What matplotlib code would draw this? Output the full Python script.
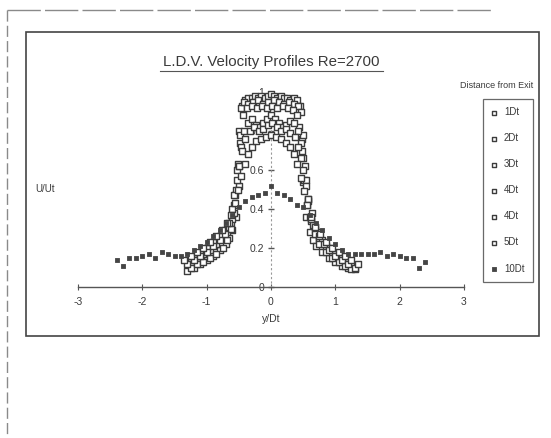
import matplotlib
matplotlib.use("Agg")
import matplotlib.pyplot as plt
from matplotlib.lines import Line2D
from matplotlib.patches import Rectangle

# ---------------- data ----------------
title = "L.D.V. Velocity Profiles Re=2700"
x_label = "y/Dt"
y_label = "U/Ut"
legend_title = "Distance from Exit"
series_labels = ["1Dt", "2Dt", "3Dt", "4Dt", "4Dt", "5Dt", "10Dt"]
x_ticks = [-3, -2, -1, 0, 1, 2, 3]
y_ticks = [0, 0.2, 0.4, 0.6, 0.8, 1]
y_tick_labels = ["0", "0.2", "0.4", "0.6", "0.8", "1"]

x_1dt = [-1.3, -1.2, -1.1, -1.0, -0.9, -0.8, -0.7, -0.65, -0.6, -0.55, -0.5, -0.48, -0.45,
         -0.4, -0.35, -0.3, -0.25, -0.2, -0.15, -0.1, -0.05, 0.0,
         0.05, 0.1, 0.15, 0.2, 0.25, 0.3, 0.35, 0.4, 0.45,
         0.48, 0.5, 0.55, 0.6, 0.65, 0.7, 0.8, 0.9, 1.0, 1.1, 1.2, 1.3]
y_1dt = [0.08, 0.10, 0.12, 0.14, 0.16, 0.19, 0.22, 0.25, 0.29, 0.36, 0.52, 0.74, 0.93,
         0.96, 0.97, 0.97, 0.98, 0.97, 0.98, 0.97, 0.98, 0.99,
         0.98, 0.97, 0.98, 0.97, 0.97, 0.96, 0.97, 0.96, 0.93,
         0.76, 0.54, 0.36, 0.28, 0.24, 0.21, 0.18, 0.15, 0.13, 0.11, 0.10, 0.09]

x_2dt = [-1.25, -1.15, -1.05, -0.95, -0.85, -0.75, -0.68, -0.62, -0.57, -0.53, -0.50, -0.46,
         -0.42, -0.36, -0.28, -0.20, -0.12, -0.04, 0.04, 0.12, 0.20, 0.28, 0.36, 0.42,
         0.46, 0.50, 0.53, 0.57, 0.62, 0.68, 0.75, 0.85, 0.95, 1.05, 1.15, 1.25]
y_2dt = [0.13, 0.15, 0.17, 0.19, 0.22, 0.25, 0.28, 0.33, 0.42, 0.60, 0.80, 0.92,
         0.95, 0.94, 0.95, 0.96, 0.94, 0.95, 0.96, 0.95, 0.94, 0.95, 0.94, 0.93,
         0.90, 0.78, 0.62, 0.45, 0.34, 0.29, 0.25, 0.21, 0.18, 0.16, 0.14, 0.12]

x_3dt = [-1.20, -1.10, -1.00, -0.90, -0.80, -0.72, -0.65, -0.60, -0.56, -0.52,
         -0.48, -0.44, -0.38, -0.30, -0.22, -0.14, -0.06, 0.02, 0.10, 0.18,
         0.26, 0.34, 0.40, 0.44, 0.48, 0.52, 0.56, 0.60, 0.65, 0.72,
         0.80, 0.90, 1.00, 1.10, 1.20]
y_3dt = [0.15, 0.17, 0.20, 0.23, 0.26, 0.29, 0.31, 0.35, 0.47, 0.63,
         0.78, 0.88, 0.92, 0.93, 0.92, 0.93, 0.92, 0.93, 0.92, 0.93,
         0.92, 0.91, 0.88, 0.82, 0.70, 0.55, 0.42, 0.36, 0.32, 0.28,
         0.24, 0.20, 0.17, 0.15, 0.13]

x_4dt_a = [-1.25, -1.15, -1.05, -0.95, -0.85, -0.75, -0.68, -0.62, -0.58, -0.54,
           -0.50, -0.46, -0.42, -0.36, -0.30, -0.24, -0.18, -0.12, -0.06, 0.00,
           0.06, 0.12, 0.18, 0.24, 0.30, 0.36, 0.42, 0.46, 0.50, 0.54,
           0.58, 0.62, 0.68, 0.75, 0.85, 0.95, 1.05, 1.15, 1.25]
y_4dt_a = [0.10, 0.12, 0.13, 0.15, 0.17, 0.20, 0.24, 0.30, 0.38, 0.50,
           0.62, 0.72, 0.80, 0.84, 0.86, 0.83, 0.82, 0.84, 0.86, 0.88,
           0.86, 0.84, 0.82, 0.83, 0.85, 0.84, 0.80, 0.74, 0.66, 0.55,
           0.44, 0.35, 0.27, 0.22, 0.18, 0.15, 0.13, 0.11, 0.09]

x_4dt_b = [-1.30, -1.20, -1.10, -1.00, -0.90, -0.80, -0.72, -0.66, -0.61, -0.57,
           -0.53, -0.49, -0.45, -0.40, -0.33, -0.26, -0.19, -0.12, -0.05,
           0.02, 0.09, 0.16, 0.23, 0.30, 0.37, 0.42, 0.46, 0.50, 0.54,
           0.58, 0.63, 0.68, 0.74, 0.82, 0.90, 1.00, 1.10, 1.20, 1.30]
y_4dt_b = [0.12, 0.14, 0.16, 0.18, 0.21, 0.24, 0.27, 0.33, 0.40, 0.47,
           0.55, 0.62, 0.70, 0.76, 0.80, 0.82, 0.80, 0.81, 0.83,
           0.84, 0.82, 0.80, 0.81, 0.79, 0.77, 0.72, 0.66, 0.60, 0.52,
           0.45, 0.38, 0.31, 0.26, 0.22, 0.19, 0.16, 0.14, 0.12, 0.10]

x_5dt = [-1.35, -1.25, -1.15, -1.05, -0.95, -0.85, -0.76, -0.68, -0.62, -0.56,
         -0.51, -0.46, -0.41, -0.36, -0.30, -0.24, -0.16, -0.08, 0.00,
         0.08, 0.16, 0.24, 0.30, 0.36, 0.41, 0.46, 0.51, 0.56, 0.62,
         0.68, 0.76, 0.85, 0.95, 1.05, 1.15, 1.25, 1.35]
y_5dt = [0.14, 0.16, 0.18, 0.20, 0.23, 0.26, 0.29, 0.33, 0.37, 0.43,
         0.50, 0.57, 0.63, 0.68, 0.72, 0.75, 0.76, 0.77, 0.78,
         0.77, 0.76, 0.74, 0.72, 0.68, 0.63, 0.56, 0.49, 0.42, 0.36,
         0.31, 0.27, 0.23, 0.20, 0.18, 0.16, 0.14, 0.12]

x_10dt = [-2.40, -2.30, -2.20, -2.10, -2.00, -1.90, -1.80, -1.70, -1.60, -1.50,
          -1.40, -1.30, -1.20, -1.10, -1.00, -0.90, -0.80, -0.70, -0.60, -0.50,
          -0.40, -0.30, -0.20, -0.10, 0.00, 0.10, 0.20, 0.30, 0.40, 0.50,
          0.60, 0.70, 0.80, 0.90, 1.00, 1.10, 1.20, 1.30, 1.40, 1.50,
          1.60, 1.70, 1.80, 1.90, 2.00, 2.10, 2.20, 2.30, 2.40]
y_10dt = [0.14, 0.11, 0.15, 0.15, 0.16, 0.17, 0.15, 0.18, 0.17, 0.16,
          0.16, 0.17, 0.19, 0.21, 0.23, 0.26, 0.29, 0.33, 0.37, 0.41,
          0.44, 0.46, 0.47, 0.48, 0.52, 0.48, 0.47, 0.45, 0.42, 0.41,
          0.37, 0.33, 0.29, 0.25, 0.22, 0.19, 0.17, 0.17, 0.17, 0.17,
          0.17, 0.18, 0.16, 0.17, 0.16, 0.15, 0.15, 0.10, 0.13]

series_x = [x_1dt, x_2dt, x_3dt, x_4dt_a, x_4dt_b, x_5dt, x_10dt]
series_y = [y_1dt, y_2dt, y_3dt, y_4dt_a, y_4dt_b, y_5dt, y_10dt]

# ---------------- figure ----------------
W, H = 551, 438
plt.rcParams['font.family'] = ['Liberation Sans', 'DejaVu Sans']
fig = plt.figure(figsize=(W / 100, H / 100), dpi=100)
fig.patch.set_facecolor('white')

def fx(px):
    return px / W

def fy(py):
    return 1 - py / H

ink = '#3a3a3a'

# page borders
fig.add_artist(Line2D([fx(7), fx(493)], [fy(10), fy(10)], color='#8a8a8a', lw=1.0,
                      linestyle=(0, (24, 3)), transform=fig.transFigure))
fig.add_artist(Line2D([fx(7), fx(7)], [fy(10), fy(438)], color='#8a8a8a', lw=1.0,
                      linestyle=(0, (8, 3)), transform=fig.transFigure))
# chart frame
fig.add_artist(Rectangle((fx(26), fy(336)), fx(539) - fx(26), fy(32) - fy(336),
                         fill=False, edgecolor='#444444', lw=1.2, transform=fig.transFigure))

# axes: x -3..3 -> px 78..464 ; y 0..1 -> px 287..92
ax = fig.add_axes([fx(78), fy(287), fx(464) - fx(78), fy(92) - fy(287)])
ax.set_xlim(-3, 3)
ax.set_ylim(0, 1)
ax.patch.set_alpha(0)

for s in ['top', 'right']:
    ax.spines[s].set_visible(False)
ax.spines['left'].set_position(('data', 0))
ax.spines['left'].set_linestyle((0, (1, 3)))
ax.spines['left'].set_color('#999999')
ax.spines['left'].set_linewidth(0.8)
ax.spines['bottom'].set_color('#555555')
ax.spines['bottom'].set_linewidth(1.0)

ax.set_xticks(x_ticks)
ax.set_xticklabels([str(t) for t in x_ticks])
ax.set_yticks(y_ticks)
ax.set_yticklabels(y_tick_labels)
ax.tick_params(axis='x', direction='inout', length=5, width=0.8, color='#555555',
               labelsize=7.5, labelcolor=ink, pad=5)
ax.tick_params(axis='y', direction='inout', length=4, width=1.0, color='#555555',
               labelsize=7.5, labelcolor=ink, pad=3)

open_style = dict(marker='s', s=20, facecolors='white', edgecolors='#3c3c3c', linewidths=1.0)
for i in range(6):
    ax.scatter(series_x[i], series_y[i], label=series_labels[i], zorder=3,
               clip_on=False, **open_style)
ax.scatter(series_x[6], series_y[6], label=series_labels[6], marker='s', s=12,
           facecolors='#454545', edgecolors='#454545', linewidths=0.6, zorder=4,
           clip_on=False)

# labels
fig.text(fx(271), fy(62), title, ha='center', va='center', fontsize=10.8, color=ink)
fig.add_artist(Line2D([fx(160), fx(383)], [fy(70.5), fy(70.5)], color='#555555', lw=0.8,
                      transform=fig.transFigure))
fig.text(fx(271), fy(319), x_label, ha='center', va='center', fontsize=7.5, color=ink)
fig.text(fx(35), fy(189), y_label, ha='left', va='center', fontsize=7, color=ink)
fig.text(fx(533), fy(85), legend_title, ha='right', va='center', fontsize=6.5, color=ink)

leg = ax.legend(loc='upper left', bbox_to_anchor=(fx(483), fy(99)),
                bbox_transform=fig.transFigure, borderaxespad=0, fontsize=7,
                frameon=True, fancybox=False, edgecolor='#444444',
                handlelength=0.6, handletextpad=0.7, borderpad=0.85,
                labelspacing=1.65, markerscale=0.65, scatterpoints=1)
leg.get_frame().set_linewidth(0.9)
for t in leg.get_texts():
    t.set_color(ink)

fig.savefig('out.png', dpi=100, facecolor='white')
